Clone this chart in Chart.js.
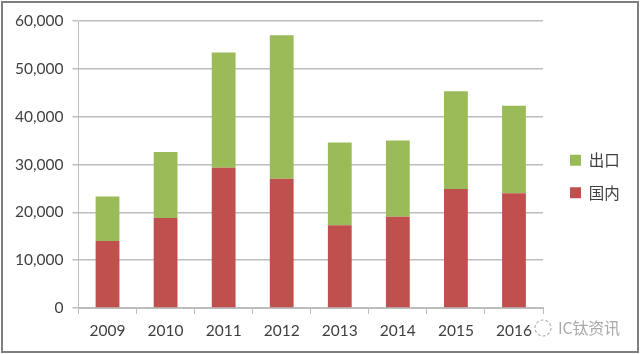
<!DOCTYPE html>
<html><head><meta charset="utf-8">
<script src="https://cdn.jsdelivr.net/npm/chart.js@4"></script>
<style>
html,body{margin:0;padding:0;background:#fff;overflow:hidden}
#wrap{position:relative;width:640px;height:354px}
#frame{position:absolute;left:1px;top:1px;width:634px;height:348px;border:2px solid #7f7f7f;pointer-events:none;z-index:2}
canvas{position:absolute;left:0;top:0}
#mark{position:absolute;left:558px;top:315px;font:16px "Noto Sans CJK SC","Noto Sans",sans-serif;color:#a9a9a9;white-space:nowrap;z-index:3;letter-spacing:-.2px}
</style></head><body>
<div id="wrap"><canvas id="c" width="640" height="354"></canvas><div id="frame"></div><div id="mark">IC钛资讯</div></div>
<script>
const categories=['2009','2010','2011','2012','2013','2014','2015','2016'];
const domestic=[14000,18800,29300,27000,17300,19100,24900,24000];
const exported=[9300,13800,24100,30000,17300,15900,20400,18300];
const yTicks=[0,10000,20000,30000,40000,50000,60000];
const seriesNames=['国内','出口'];
const fontFamily='Lato,"Noto Sans CJK SC",sans-serif';
const textColor='#3f3f3f', gridColor='#bdbdbd';
new Chart(document.getElementById('c'),{
 type:'bar',
 data:{labels:categories,datasets:[
  {label:seriesNames[0],data:domestic,backgroundColor:'#c0504d',stack:'s'},
  {label:seriesNames[1],data:exported,backgroundColor:'#9bbb59',stack:'s'}
 ]},
 options:{
  responsive:false,animation:false,
  layout:{padding:{left:0,right:0,top:21,bottom:0}},
  datasets:{bar:{barPercentage:0.41,categoryPercentage:1}},
  plugins:{
   tooltip:{enabled:false},
   legend:{position:'right',reverse:true,
    labels:{boxWidth:11,boxHeight:11,padding:17,color:textColor,
     font:{size:15.5,family:'"Noto Sans CJK SC",sans-serif'}}}
  },
  scales:{
   x:{stacked:true,
    grid:{drawOnChartArea:false,color:gridColor,tickLength:6,lineWidth:1,drawTicks:true},
    border:{color:gridColor,width:2},
    ticks:{color:textColor,font:{size:15.5,family:fontFamily},maxRotation:0,padding:8},
    afterFit(s){s.height=354-308;}
   },
   y:{stacked:true,min:0,max:60000,
    afterBuildTicks(s){s.ticks=yTicks.map(v=>({value:v}));},
    grid:{color:gridColor,lineWidth:1.5,tickLength:6},
    border:{color:gridColor,width:1},
    ticks:{color:textColor,font:{size:15.5,family:fontFamily},padding:9,
     callback:v=>v.toLocaleString('en-US')},
    afterFit(s){s.width=78.5;}
   }
  }
 },
 plugins:[{id:'fit',
  beforeLayout(ch){
   const lg=ch.legend;
   if(lg&&!lg._wrapped){lg._wrapped=true;const f=lg.fit.bind(lg);lg.fit=function(){f();this.width=640-543;};}
  },
  afterLayout(ch){
   const lg=ch.legend;
   lg.left+=10;lg.right+=10;lg.top-=11;lg.bottom-=11;
  }
 },{id:'logo',
  afterDraw(ch){
   const c=ch.ctx;c.save();c.strokeStyle='#b4b4b4';c.lineWidth=1.2;c.setLineDash([3,2]);
   c.beginPath();c.arc(543,328,8,0,Math.PI*2);c.stroke();c.restore();
  }
 }]
});
</script></body></html>
